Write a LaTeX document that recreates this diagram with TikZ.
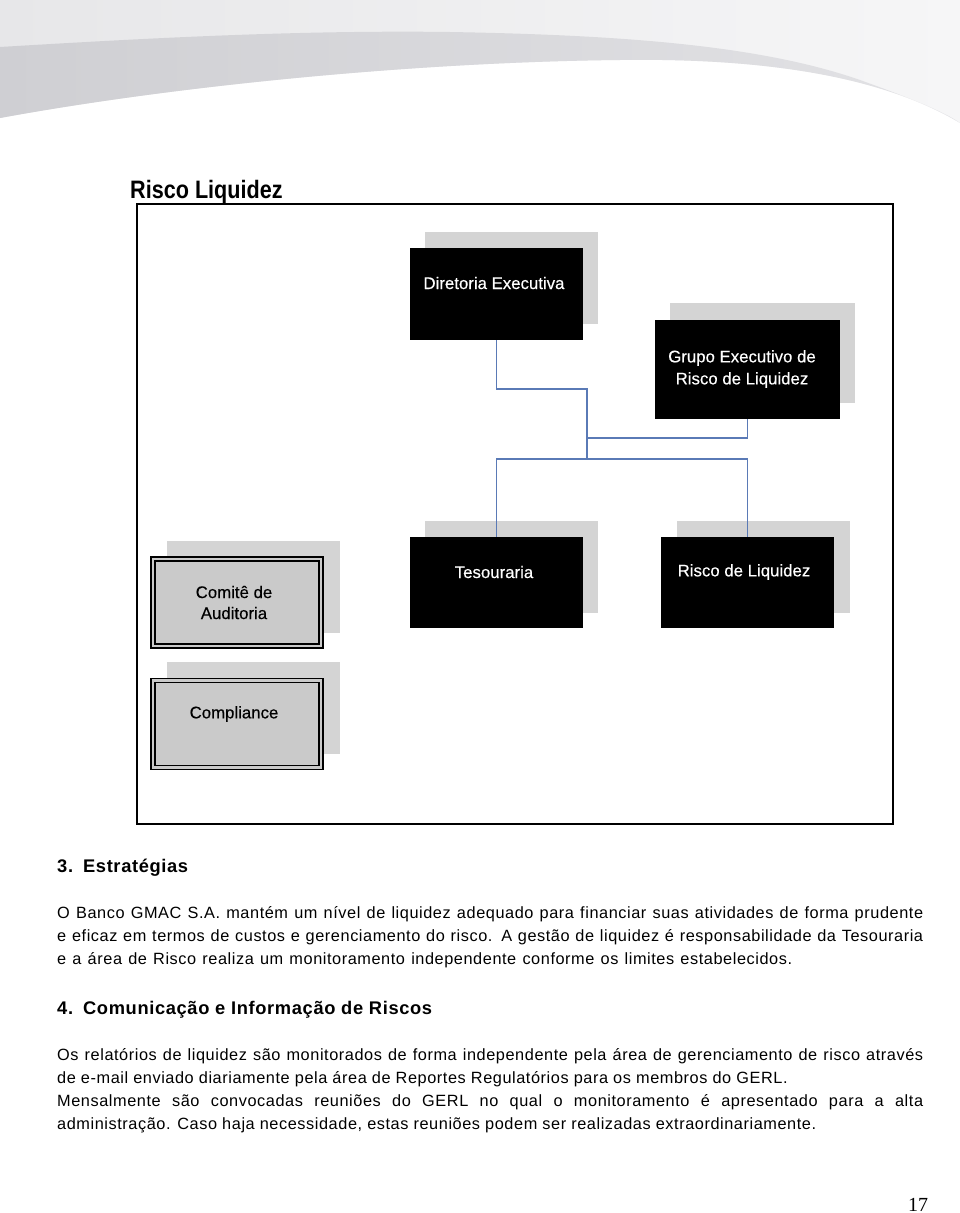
\documentclass[tikz,border=0pt]{standalone}
\usepackage{fontspec}
\setmainfont{Liberation Sans}
\newfontfamily\seriffont{Liberation Serif}
\newfontfamily\bodyfont[LetterSpace=3.5]{Liberation Sans}
\newfontfamily\headfont[LetterSpace=3.5]{Liberation Sans}
\newfontfamily\boxfont[FakeBold=0.3]{Liberation Sans}
\definecolor{shadowgray}{HTML}{D4D4D4}
\definecolor{boxgray}{HTML}{CACACA}
\definecolor{connblue}{HTML}{5A7AB6}
\definecolor{swooshlightL}{HTML}{E7E7E9}
\definecolor{swooshlightR}{HTML}{F6F6F7}
\definecolor{swooshbandL}{HTML}{CFCFD3}
\definecolor{swooshbandR}{HTML}{E2E2E5}
\begin{document}
\begin{tikzpicture}[x=1pt,y=-1pt,
  shadowbox/.style={fill=shadowgray,draw=none,minimum width=173pt,minimum height=92pt,inner sep=0pt},
  blackbox/.style={fill=black,draw=none,minimum width=173pt,minimum height=92pt,inner sep=0pt},
  graybox/.style={fill=boxgray,draw=black,line width=1.2pt,minimum width=172pt,minimum height=91pt,inner sep=0pt},
  grayinner/.style={draw=black,line width=1.2pt,minimum width=164pt,minimum height=83pt,inner sep=0pt},
  whitetext/.style={text=white,font=\boxfont\fontsize{16.8}{22}\selectfont,align=center,inner sep=0pt},
  blacktext/.style={text=black,font=\boxfont\fontsize{16.8}{21}\selectfont,align=center,inner sep=0pt},
  conn/.style={draw=connblue,line width=1.6pt},
  bodyline/.style={anchor=base west,inner sep=0pt,font=\bodyfont\fontsize{16.3}{23}\selectfont},
  headline/.style={anchor=base west,inner sep=0pt,font=\headfont\bfseries\fontsize{18.3}{23}\selectfont}]
\useasboundingbox (0,0) rectangle (960,1213);
% top swoosh
\shade[left color=swooshlightL,right color=swooshlightR] (0,0) -- (960,0) -- (960,123)
  .. controls (880,75) and (760,58) .. (620,60)
  .. controls (420,62) and (180,85) .. (0,118) -- cycle;
\shade[left color=swooshbandL,right color=swooshbandR] (0,47)
  .. controls (150,38) and (300,30) .. (450,32)
  .. controls (620,35) and (760,45) .. (860,80)
  .. controls (910,98) and (945,112) .. (960,123)
  .. controls (880,75) and (760,58) .. (620,60)
  .. controls (420,62) and (180,85) .. (0,118) -- cycle;

% title and frame
\node[anchor=base west,inner sep=0pt] (title) at (130,198) {\scalebox{0.9}[1.05]{\fontsize{24}{28}\selectfont\bfseries Risco Liquidez}};
\node[draw=black,line width=1.3pt,minimum width=756pt,minimum height=620pt,inner sep=0pt] (frame) at (515,514) {};

% shadows
\node[shadowbox] (dirS) at (511.5,278) {};
\node[shadowbox,minimum width=185pt,minimum height=100pt] (grpS) at (762.5,353) {};
\node[shadowbox] (tesS) at (511.5,567) {};
\node[shadowbox] (risS) at (763,567) {};
\node[shadowbox] (comS) at (253,587) {};
\node[shadowbox] (cmpS) at (253,708) {};

% black boxes
\node[blackbox] (dir) at (496.5,294) {};
\node[blackbox,minimum width=185pt,minimum height=99pt] (grp) at (747.5,369.5) {};
\node[blackbox,minimum height=91pt] (tes) at (496.5,582.5) {};
\node[blackbox,minimum height=91pt] (ris) at (747.5,582.5) {};

% gray double boxes
\node[graybox] (com) at (237,602.5) {};
\node[grayinner] (comI) at (237,602.5) {};
\node[graybox] (cmp) at (237,724) {};
\node[grayinner] (cmpI) at (237,724) {};

% texts
\node[whitetext] (dirT) at (494,283) {Diretoria Executiva};
\node[whitetext] (grpT) at (742,369) {Grupo Executivo de\\Risco de Liquidez};
\node[whitetext] (tesT) at (494,572) {Tesouraria};
\node[whitetext] (risT) at (744,572) {Risco de Liquidez};
\node[blacktext] (comT) at (234,602.5) {Comitê de\\Auditoria};
\node[blacktext] (cmpT) at (234,714) {Compliance};

% connectors
\coordinate (jA) at (587,459);
\draw[conn] (dir.south) -- ++(0,49) -| (jA);
\draw[conn] (grp.south) -- ++(0,19) -| (jA);
\draw[conn] (tes.north) -- ++(0,-78) -| (ris.north);

% body text
\node[headline] (h3) at (57,872) {3.\hspace{10pt}Estratégias};
\node[bodyline] (p1a) at (57,918) {\makebox[866pt][s]{O Banco GMAC S.A. mantém um nível de liquidez adequado para financiar suas atividades de forma prudente}};
\node[bodyline] (p1b) at (57,941) {\makebox[866pt][s]{e eficaz em termos de custos e gerenciamento do risco. A gestão de liquidez é responsabilidade da Tesouraria}};
\node[bodyline] (p1c) at (57,964) {\makebox[735pt][s]{e a área de Risco realiza um monitoramento independente conforme os limites estabelecidos.}};
\node[headline] (h4) at (57,1014) {4.\hspace{10pt}Comunicação e Informação de Riscos};
\node[bodyline] (p2a) at (57,1060) {\makebox[866pt][s]{Os relatórios de liquidez são monitorados de forma independente pela área de gerenciamento de risco através}};
\node[bodyline] (p2b) at (57,1083) {de e-mail enviado diariamente pela área de Reportes Regulatórios para os membros do GERL.};
\node[bodyline] (p2c) at (57,1106) {\makebox[866pt][s]{Mensalmente são convocadas reuniões do GERL no qual o monitoramento é apresentado para a alta}};
\node[bodyline] (p2d) at (57,1129) {administração. Caso haja necessidade, estas reuniões podem ser realizadas extraordinariamente.};
\node[anchor=base west,inner sep=0pt,font=\seriffont\fontsize{20}{24}\selectfont] (pg) at (908,1211) {17};
\end{tikzpicture}
\end{document}
